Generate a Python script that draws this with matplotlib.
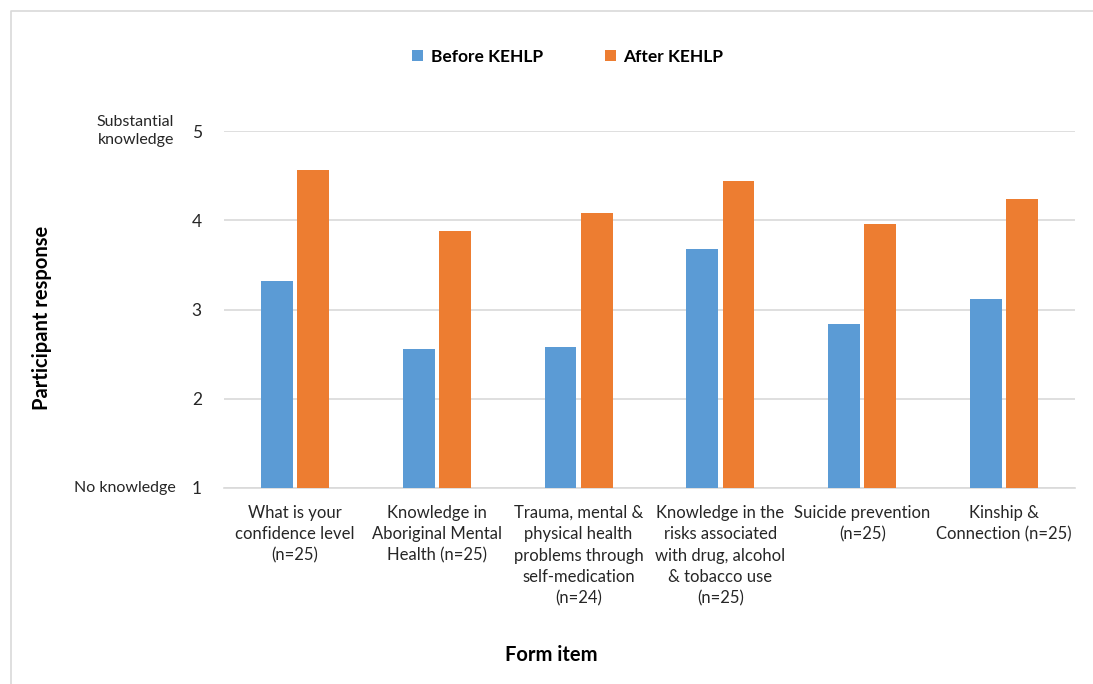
import matplotlib
matplotlib.use("Agg")
import matplotlib.pyplot as plt
import numpy as np
from matplotlib.lines import Line2D
from matplotlib.patches import Patch

plt.rcParams['font.family'] = ['Lato', 'DejaVu Sans']

categories = [
    "What is your\nconfidence level\n(n=25)",
    "Knowledge in\nAboriginal Mental\nHealth (n=25)",
    "Trauma, mental &\nphysical health\nproblems through\nself-medication\n(n=24)",
    "Knowledge in the\nrisks associated\nwith drug, alcohol\n& tobacco use\n(n=25)",
    "Suicide prevention\n(n=25)",
    "Kinship &\nConnection (n=25)",
]
before = [3.32, 2.56, 2.58, 3.68, 2.84, 3.12]
after = [4.56, 3.88, 4.08, 4.44, 3.96, 4.24]
series_names = ["Before KEHLP", "After KEHLP"]
yticks = [1, 2, 3, 4, 5]
colors = ["#5b9bd5", "#ed7d31"]

W, H = 1093, 684
fig = plt.figure(figsize=(W / 100, H / 100), dpi=100)
ax = fig.add_axes([224 / W, 1 - 488 / H, (1075 - 224) / W, (488 - 131) / H])

x = np.arange(len(categories))
bw = 0.225
gap = 0.03
ax.bar(x - (bw + gap) / 2, before, width=bw, bottom=0, color=colors[0], zorder=3)
ax.bar(x + (bw + gap) / 2, after, width=bw, bottom=0, color=colors[1], zorder=3)

ax.set_xlim(-0.5, len(categories) - 0.5)
ax.set_ylim(1, 5)
ax.set_yticks(yticks)
ax.set_yticklabels([str(v) for v in yticks], fontsize=12.5, color="#262626")
ax.yaxis.grid(True, color="#d9d9d9", linewidth=1.2, zorder=0)
ax.set_axisbelow(True)
for s in ["top", "right", "left"]:
    ax.spines[s].set_visible(False)
ax.spines["bottom"].set_color("#d9d9d9")
ax.spines["bottom"].set_linewidth(1.2)
ax.tick_params(axis="y", length=0, pad=16)
ax.tick_params(axis="x", length=0, pad=12)
ax.set_xticks(x)
ax.set_xticklabels(categories, fontsize=12, color="#262626", linespacing=1.42, va="top")

# end labels on y axis
fig.text(174 / W, 1 - 131 / H, "Substantial\nknowledge", ha="right", va="center",
         fontsize=11.5, color="#262626", linespacing=1.3)
fig.text(176 / W, 1 - 488 / H, "No knowledge", ha="right", va="center",
         fontsize=11.5, color="#262626")

# axis titles
fig.text(42 / W, 1 - 318 / H, "Participant response", rotation=90, ha="center", va="center",
         fontsize=14.5, fontweight="bold", color="black")
fig.text(551 / W, 1 - 655 / H, "Form item", ha="center", va="center",
         fontsize=14.5, fontweight="bold", color="black")

# legend
handles = [Patch(facecolor=c, edgecolor="none") for c in colors]
leg = fig.legend(handles, series_names, loc="center", bbox_to_anchor=(568 / W, 1 - 57 / H),
                 ncol=2, frameon=False, handlelength=0.6, handleheight=0.6,
                 handletextpad=0.45, columnspacing=3.6, prop={"weight": "bold", "size": 12.5})

# figure border
fig.add_artist(Line2D([11 / W, 11 / W, 1.0], [0.0, 1 - 11 / H, 1 - 11 / H],
                      transform=fig.transFigure, color="#d9d9d9", linewidth=1.2))

fig.savefig("out.png", dpi=100, facecolor="white")
